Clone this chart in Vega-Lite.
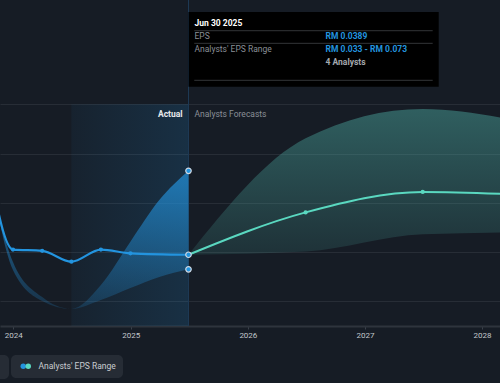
{
  "$schema": "https://vega.github.io/schema/vega-lite/v6.json",
  "width": 500,
  "height": 326,
  "autosize": {"type": "none"},
  "padding": {"left": 0, "top": 0, "right": 0, "bottom": 57},
  "background": "#161c25",
  "config": {"view": {"stroke": null}, "font": "Roboto"},
  "data": {"values": [{}]},
  "datasets": {
    "eps": [
      {"date": "2023-09-30T00:00:00", "eps": 0.0900},
      {"date": "2023-12-31T00:00:00", "eps": 0.0410},
      {"date": "2024-03-31T00:00:00", "eps": 0.0405},
      {"date": "2024-06-30T00:00:00", "eps": 0.0361},
      {"date": "2024-09-30T00:00:00", "eps": 0.0410},
      {"date": "2024-12-31T00:00:00", "eps": 0.0395},
      {"date": "2025-06-30T00:00:00", "eps": 0.0389}
    ],
    "forecast": [
      {"date": "2025-06-30T00:00:00", "eps": 0.0389},
      {"date": "2026-06-30T00:00:00", "eps": 0.0561},
      {"date": "2027-06-30T00:00:00", "eps": 0.0644},
      {"date": "2028-06-30T00:00:00", "eps": 0.0630}
    ],
    "pastRange": [
      {"date": "2023-09-30T00:00:00", "low": 0.0900, "high": 0.0800},
      {"date": "2023-12-31T00:00:00", "low": 0.0327, "high": 0.0360},
      {"date": "2024-03-31T00:00:00", "low": 0.0201, "high": 0.0217},
      {"date": "2024-06-30T00:00:00", "low": 0.0169, "high": 0.0169},
      {"date": "2024-09-30T00:00:00", "low": 0.0205, "high": 0.0266},
      {"date": "2024-12-31T00:00:00", "low": 0.0254, "high": 0.0442},
      {"date": "2025-03-31T00:00:00", "low": 0.0299, "high": 0.0611},
      {"date": "2025-06-30T00:00:00", "low": 0.0330, "high": 0.0730}
    ],
    "fcRange": [
      {"date": "2025-06-30T00:00:00", "low": 0.0389, "high": 0.0389},
      {"date": "2026-06-30T00:00:00", "low": 0.0402, "high": 0.0862},
      {"date": "2027-06-30T00:00:00", "low": 0.0472, "high": 0.0981},
      {"date": "2028-06-30T00:00:00", "low": 0.0481, "high": 0.0912}
    ],
    "focus": [
      {"date": "2025-06-30T00:00:00", "v": 0.073},
      {"date": "2025-06-30T00:00:00", "v": 0.0389},
      {"date": "2025-06-30T00:00:00", "v": 0.033}
    ]
  },
  "layer": [
    {
      "mark": {
        "type": "rect",
        "fill": {"gradient": "linear", "x1": 0, "y1": 0, "x2": 1, "y2": 0,
          "stops": [{"offset": 0, "color": "rgba(35,148,223,0.05)"}, {"offset": 1, "color": "rgba(35,148,223,0.17)"}]}
      },
      "encoding": {
        "x": {
          "datum": {"year": 2024, "month": 6, "date": 30}, "type": "temporal",
          "scale": {"domain": [{"year": 2023, "month": 11, "date": 20, "hours": 13}, {"year": 2028, "month": 2, "date": 25, "hours": 19}]},
          "axis": {"title": null, "format": "%Y", "tickCount": {"interval": "year", "step": 1}, "grid": false,
            "labelColor": "#c3c7cc", "labelFontSize": 8, "labelFont": "Roboto", "labelPadding": 2, "labelFlush": false,
            "domainColor": "#2e343d", "domainWidth": 2, "tickColor": "#3a414b", "tickSize": 3, "tickWidth": 1}
        },
        "x2": {"datum": {"year": 2025, "month": 6, "date": 30}},
        "y": {
          "datum": 0.01, "type": "quantitative",
          "scale": {"domain": [0.00997, 0.14236], "nice": false, "zero": false},
          "axis": {"title": null, "values": [0.02, 0.04, 0.06, 0.08, 0.1], "grid": true, "gridColor": "#272d36", "gridWidth": 1, "domain": false, "ticks": false, "labels": false}
        },
        "y2": {"datum": 0.10}
      }
    },
    {
      "mark": {"type": "rule", "color": "#1e3a56", "strokeWidth": 1},
      "encoding": {"x": {"datum": {"year": 2025, "month": 6, "date": 30}, "type": "temporal"}}
    },
    {
      "data": {"name": "pastRange"},
      "mark": {
        "type": "area", "interpolate": "monotone", "clip": true,
        "fill": {"gradient": "linear", "x1": 0, "y1": 0, "x2": 0, "y2": 1,
          "stops": [{"offset": 0, "color": "rgba(35,148,223,0.75)"}, {"offset": 0.3, "color": "rgba(35,148,223,0.68)"}, {"offset": 0.75, "color": "rgba(35,148,223,0.36)"}, {"offset": 1, "color": "rgba(35,148,223,0.18)"}]}
      },
      "encoding": {
        "x": {"field": "date", "type": "temporal"},
        "y": {"field": "low", "type": "quantitative"},
        "y2": {"field": "high"}
      }
    },
    {
      "data": {"name": "fcRange"},
      "mark": {
        "type": "area", "interpolate": "monotone", "clip": true,
        "fill": {"gradient": "linear", "x1": 0, "y1": 0, "x2": 0, "y2": 1,
          "stops": [{"offset": 0, "color": "rgba(80,180,170,0.44)"}, {"offset": 1, "color": "rgba(80,180,170,0.14)"}]}
      },
      "encoding": {
        "x": {"field": "date", "type": "temporal"},
        "y": {"field": "low", "type": "quantitative"},
        "y2": {"field": "high"}
      }
    },
    {
      "data": {"name": "eps"},
      "mark": {"type": "line", "interpolate": "monotone", "clip": true, "color": "#2394df", "strokeWidth": 2.2,
        "point": {"filled": true, "size": 18, "color": "#2394df", "opacity": 1}},
      "encoding": {
        "x": {"field": "date", "type": "temporal"},
        "y": {"field": "eps", "type": "quantitative"}
      }
    },
    {
      "data": {"name": "forecast"},
      "mark": {"type": "line", "interpolate": "monotone", "clip": true, "color": "#5ad8c0", "strokeWidth": 2,
        "point": {"filled": true, "size": 18, "color": "#5ad8c0", "opacity": 1}},
      "encoding": {
        "x": {"field": "date", "type": "temporal"},
        "y": {"field": "eps", "type": "quantitative"}
      }
    },
    {
      "data": {"name": "focus"},
      "mark": {"type": "circle", "size": 30, "fill": "#2394df", "stroke": "#cfd8e3", "strokeWidth": 1.2, "opacity": 1},
      "encoding": {
        "x": {"field": "date", "type": "temporal"},
        "y": {"field": "v", "type": "quantitative"}
      }
    },
    {
      "mark": {"type": "text", "text": "Actual", "align": "right", "baseline": "middle", "dx": -6, "dy": 10, "fontSize": 8.5, "fontWeight": "bold", "color": "#e8eaed"},
      "encoding": {"x": {"datum": {"year": 2025, "month": 6, "date": 30}, "type": "temporal"}, "y": {"datum": 0.10, "type": "quantitative"}}
    },
    {
      "mark": {"type": "text", "text": "Analysts Forecasts", "align": "left", "baseline": "middle", "dx": 6, "dy": 10, "fontSize": 8.5, "color": "#8a8f96"},
      "encoding": {"x": {"datum": {"year": 2025, "month": 6, "date": 30}, "type": "temporal"}, "y": {"datum": 0.10, "type": "quantitative"}}
    },
    {
      "mark": {"type": "rect", "fill": "#000000"},
      "encoding": {
        "x": {"datum": {"year": 2025, "month": 6, "date": 30}, "type": "temporal"},
        "x2": {"datum": {"year": 2027, "month": 8, "date": 18, "hours": 19}},
        "y": {"datum": 0.13748, "type": "quantitative"},
        "y2": {"datum": 0.10715}
      }
    },
    {
      "mark": {"type": "rule", "color": "#333538", "strokeWidth": 1},
      "encoding": {
        "x": {"datum": {"year": 2025, "month": 7, "date": 18}, "type": "temporal"},
        "x2": {"datum": {"year": 2027, "month": 7, "date": 31}},
        "y": {"datum": 0.12989, "type": "quantitative"}
      }
    },
    {
      "mark": {"type": "rule", "color": "#333538", "strokeWidth": 1},
      "encoding": {
        "x": {"datum": {"year": 2025, "month": 7, "date": 18}, "type": "temporal"},
        "x2": {"datum": {"year": 2027, "month": 7, "date": 31}},
        "y": {"datum": 0.12477, "type": "quantitative"}
      }
    },
    {
      "mark": {"type": "rule", "color": "#333538", "strokeWidth": 1},
      "encoding": {
        "x": {"datum": {"year": 2025, "month": 7, "date": 18}, "type": "temporal"},
        "x2": {"datum": {"year": 2027, "month": 7, "date": 31}},
        "y": {"datum": 0.10975, "type": "quantitative"}
      }
    },
    {
      "mark": {"type": "text", "text": "Jun 30 2025", "align": "left", "baseline": "middle", "dx": 6, "fontSize": 8.5, "fontWeight": "bold", "color": "#ffffff"},
      "encoding": {"x": {"datum": {"year": 2025, "month": 6, "date": 30}, "type": "temporal"}, "y": {"datum": 0.13289, "type": "quantitative"}}
    },
    {
      "mark": {"type": "text", "text": "EPS", "align": "left", "baseline": "middle", "dx": 6, "fontSize": 8.5, "color": "#8a8f96"},
      "encoding": {"x": {"datum": {"year": 2025, "month": 6, "date": 30}, "type": "temporal"}, "y": {"datum": 0.12774, "type": "quantitative"}}
    },
    {
      "mark": {"type": "text", "text": "RM 0.0389", "align": "left", "baseline": "middle", "dx": 137, "fontSize": 8.5, "fontWeight": "bold", "color": "#2394df"},
      "encoding": {"x": {"datum": {"year": 2025, "month": 6, "date": 30}, "type": "temporal"}, "y": {"datum": 0.12774, "type": "quantitative"}}
    },
    {
      "mark": {"type": "text", "text": "Analysts' EPS Range", "align": "left", "baseline": "middle", "dx": 6, "fontSize": 8.5, "color": "#8a8f96"},
      "encoding": {"x": {"datum": {"year": 2025, "month": 6, "date": 30}, "type": "temporal"}, "y": {"datum": 0.12246, "type": "quantitative"}}
    },
    {
      "mark": {"type": "text", "text": "RM 0.033 - RM 0.073", "align": "left", "baseline": "middle", "dx": 137, "fontSize": 8.5, "fontWeight": "bold", "color": "#2394df"},
      "encoding": {"x": {"datum": {"year": 2025, "month": 6, "date": 30}, "type": "temporal"}, "y": {"datum": 0.12246, "type": "quantitative"}}
    },
    {
      "mark": {"type": "text", "text": "4 Analysts", "align": "left", "baseline": "middle", "dx": 137, "fontSize": 8.5, "fontWeight": "bold", "color": "#a5a9af"},
      "encoding": {"x": {"datum": {"year": 2025, "month": 6, "date": 30}, "type": "temporal"}, "y": {"datum": 0.1173, "type": "quantitative"}}
    },
    {
      "data": {"values": [{"k": "Analysts' EPS Range"}]},
      "transform": [{"filter": "false"}],
      "mark": {"type": "circle", "opacity": 1},
      "encoding": {
        "fill": {"field": "k", "type": "nominal",
          "scale": {"domain": ["Analysts' EPS Range"], "range": ["#2394df"]},
          "legend": {"orient": "none", "legendX": 11, "legendY": 355, "title": null, "fillColor": "#262c35", "cornerRadius": 5, "padding": 7,
            "symbolType": "circle", "symbolSize": 30, "symbolOffset": 1, "symbolOpacity": 1, "symbolStrokeWidth": 0,
            "labelColor": "#c9ccd1", "labelFontSize": 8.5, "labelFont": "Roboto", "labelOffset": 11, "zindex": 1}}
      }
    },
    {
      "data": {"values": [{"k2": "teal"}]},
      "transform": [{"filter": "false"}],
      "mark": {"type": "circle", "fill": "#5ad8c0", "opacity": 1},
      "encoding": {
        "stroke": {"field": "k2", "type": "nominal",
          "scale": {"domain": ["teal"], "range": ["#5ad8c0"]},
          "legend": {"orient": "none", "legendX": 16, "legendY": 355, "title": null, "padding": 7,
            "symbolType": "circle", "symbolSize": 30, "symbolOffset": 1, "symbolOpacity": 1, "symbolFillColor": "#5ad8c0", "symbolStrokeWidth": 0,
            "labelExpr": "''", "labelFontSize": 8.5, "zindex": 2}}
      }
    },
    {
      "data": {"values": [{"k3": "EPS"}]},
      "transform": [{"filter": "false"}],
      "mark": {"type": "point", "filled": true, "color": "#2394df", "opacity": 1},
      "encoding": {
        "shape": {"field": "k3", "type": "nominal",
          "scale": {"domain": ["EPS"], "range": ["circle"]},
          "legend": {"orient": "none", "legendX": -26, "legendY": 355, "title": null, "fillColor": "#262c35", "cornerRadius": 5, "padding": 7,
            "symbolSize": 30, "symbolOffset": 1, "symbolOpacity": 1, "symbolFillColor": "#2394df",
            "labelExpr": "''", "labelFontSize": 8.5, "labelOffset": 11}}
      }
    }
  ]
}
